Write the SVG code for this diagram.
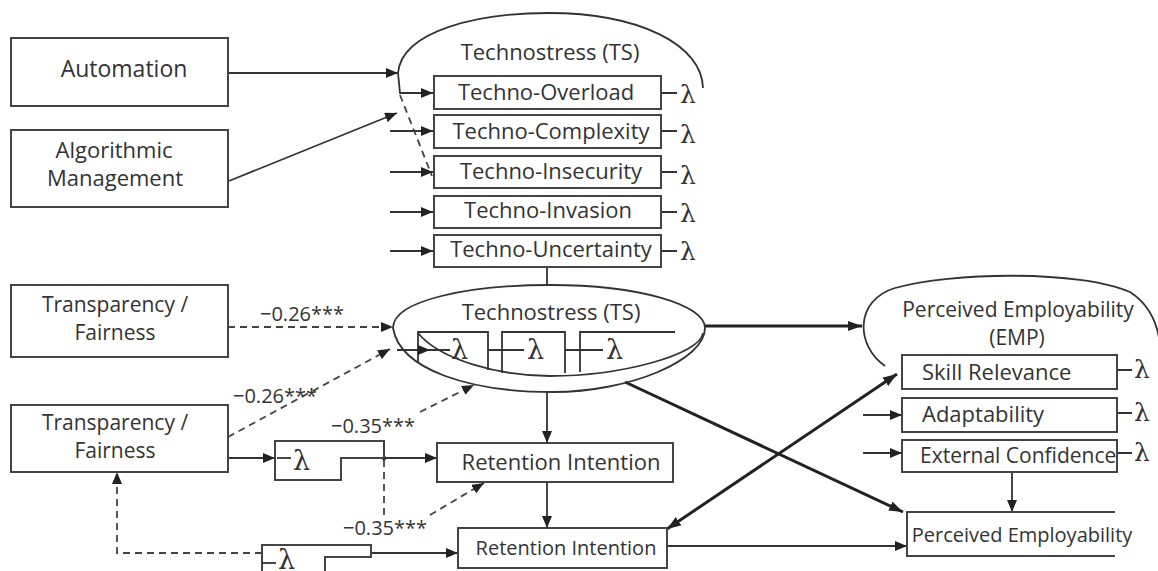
<svg xmlns="http://www.w3.org/2000/svg" width="1158" height="571" viewBox="0 0 1158 571">
  <style>
    .box { fill: #fff; stroke: #444; stroke-width: 2; }
    .ln { fill: none; stroke: #333; stroke-width: 1.8; }
    .thick { fill: none; stroke: #222; stroke-width: 3; }
    .dash { fill: none; stroke: #444; stroke-width: 1.8; stroke-dasharray: 7 5; }
    .t { font-family: "Open Sans", "Noto Sans", sans-serif; font-size: 22px; fill: #333; text-anchor: middle; }
    .ts { font-family: "Open Sans", "Noto Sans", sans-serif; font-size: 22px; fill: #333; }
    .coef { font-family: "Open Sans", "Noto Sans", sans-serif; font-size: 20px; fill: #333; }
    .lam { font-family: "DejaVu Serif", "Liberation Serif", serif; font-size: 25px; fill: #333; }
    .lamL { font-family: "DejaVu Serif", "Liberation Serif", serif; font-size: 27px; fill: #333; }
  </style>
  <defs>
    <marker id="arr" viewBox="0 0 12 10" refX="12" refY="5" markerWidth="12" markerHeight="10" markerUnits="userSpaceOnUse" orient="auto-start-reverse">
      <path d="M0,0 L12,5 L0,10 z" fill="#222"/>
    </marker>
    <marker id="arrT" viewBox="0 0 14 10" refX="14" refY="5" markerWidth="14" markerHeight="10" markerUnits="userSpaceOnUse" orient="auto-start-reverse">
      <path d="M0,0 L14,5 L0,10 z" fill="#222"/>
    </marker>
  </defs>
  <rect width="1158" height="571" fill="#fff"/>

  <!-- connectors -->
  <g id="connectors">
    <!-- antecedents into first-order technostress -->
    <path class="ln" d="M228,73 H398" marker-end="url(#arr)"/>
    <path class="ln" d="M229,181 L397,113" marker-end="url(#arr)"/>
    <path class="ln" d="M398,73 C402,30 480,13 548,13 C640,13 702,45 703,88"/>
    <path class="ln" d="M398,73 L400,93 H433" marker-end="url(#arr)"/>
    <path class="dash" d="M400,95 L432,176"/>
    <path class="ln" d="M390,131 H433" marker-end="url(#arr)"/>
    <path class="ln" d="M390,172 H433" marker-end="url(#arr)"/>
    <path class="ln" d="M390,212 H433" marker-end="url(#arr)"/>
    <path class="ln" d="M390,251 H433" marker-end="url(#arr)"/>
    <path class="ln" d="M547,267 V285"/>

    <!-- transparency / fairness paths -->
    <path class="dash" d="M228,327 H393" marker-end="url(#arr)"/>
    <path class="dash" d="M228,437 L390,349" marker-end="url(#arr)"/>
    <path class="dash" d="M420,412 L474,385" marker-end="url(#arr)"/>
    <path class="ln" d="M228,458 H275" marker-end="url(#arr)"/>
    <path class="ln" d="M384,458 H437" marker-end="url(#arr)"/>
    <circle cx="384" cy="458" r="2.2" fill="#222"/>
    <path class="dash" d="M384,460 V515"/>
    <path class="dash" d="M430,515 L484,483" marker-end="url(#arr)"/>
    <path class="dash" d="M262,553 H117 V472" marker-end="url(#arr)"/>
    <path class="ln" d="M371,553 H458" marker-end="url(#arr)"/>

    <!-- structural paths -->
    <path class="ln" d="M547,392 V443" marker-end="url(#arr)"/>
    <path class="ln" d="M547,482 V528" marker-end="url(#arr)"/>
    <path class="thick" d="M705,326 H862" marker-end="url(#arrT)"/>
    <path class="thick" d="M625,382 L903,512" marker-end="url(#arrT)"/>
    <path class="thick" d="M667,529 L897,374" marker-start="url(#arrT)" marker-end="url(#arrT)"/>
    <path class="ln" d="M667,546 H907" marker-end="url(#arr)"/>
    <path class="ln" d="M1012,472 V512" marker-end="url(#arr)"/>
    <path class="ln" d="M863,415 H902" marker-end="url(#arr)"/>
    <path class="ln" d="M863,453 H902" marker-end="url(#arr)"/>
    <path class="ln" d="M885,366 C855,345 855,300 895,288 C950,272 1080,270 1130,292 C1150,305 1158,325 1160,345"/>

    <!-- loading stubs -->
    <path class="ln" d="M661,93 H677 M661,131 H677 M661,172 H677 M661,212 H677 M661,251 H677"/>
    <path class="ln" d="M1117,370 H1132 M1117,413 H1132 M1117,453 H1132"/>
  </g>

  <!-- coefficient labels -->
  <g id="coefficients">
    <text class="coef" x="260" y="321">−0.26***</text>
    <text class="coef" x="233" y="403">−0.26***</text>
    <text class="coef" x="331" y="433">−0.35***</text>
    <text class="coef" x="343" y="535">−0.35***</text>
  </g>

  <g id="automation">
    <rect class="box" x="11" y="38" width="217" height="68"/>
    <text class="t" x="124" y="77" style="font-size:23px">Automation</text>
  </g>
  <g id="algorithmic-management">
    <rect class="box" x="11" y="130" width="217" height="77"/>
    <text class="t" x="114" y="158">Algorithmic</text>
    <text class="t" x="115" y="186">Management</text>
  </g>

  <g id="technostress-dimensions">
    <text class="t" x="550" y="60">Technostress (TS)</text>
    <rect class="box" x="434" y="76" width="227" height="33"/>
    <text class="t" x="546" y="100">Techno-Overload</text>
    <text class="lam" x="680" y="103">λ</text>
    <rect class="box" x="434" y="115" width="227" height="33"/>
    <text class="t" x="551" y="139">Techno-Complexity</text>
    <text class="lam" x="680" y="143">λ</text>
    <rect class="box" x="434" y="156" width="227" height="32"/>
    <text class="t" x="551" y="179">Techno-Insecurity</text>
    <text class="lam" x="680" y="184">λ</text>
    <rect class="box" x="434" y="196" width="227" height="32"/>
    <text class="t" x="548" y="218">Techno-Invasion</text>
    <text class="lam" x="680" y="222">λ</text>
    <rect class="box" x="434" y="235" width="227" height="32"/>
    <text class="t" x="551" y="257">Techno-Uncertainty</text>
    <text class="lam" x="680" y="260">λ</text>
  </g>

  <g id="transparency-fairness-1">
    <rect class="box" x="11" y="285" width="217" height="72"/>
    <text class="t" x="115" y="312" style="font-size:21px">Transparency /</text>
    <text class="t" x="115" y="340" style="font-size:21px">Fairness</text>
  </g>
  <g id="transparency-fairness-2">
    <rect class="box" x="11" y="405" width="217" height="67"/>
    <text class="t" x="115" y="430" style="font-size:21px">Transparency /</text>
    <text class="t" x="115" y="458" style="font-size:21px">Fairness</text>
  </g>

  <g id="technostress-latent">
    <path class="ln" d="M393,328 C393,300 470,285 550,285 C640,285 705,305 705,328 C705,360 630,392 553,392 C470,392 400,370 393,328 Z"/>
    <path class="ln" d="M418,333 C440,360 500,376 550,376 C620,376 700,355 703,333"/>
    <text class="t" x="551" y="320">Technostress (TS)</text>
    <path class="ln" d="M418,362 V332 H488 V370"/>
    <path class="ln" d="M502,373 V332 H565 V373"/>
    <path class="ln" d="M580,372 V332 H675"/>
    <path class="ln" d="M397,350 H450"/>
    <path d="M418,345 L430,350 L418,355 z" fill="#222"/>
    <path class="ln" d="M488,350 H524"/>
    <path class="ln" d="M565,350 H603"/>
    <text class="lamL" x="451" y="359">λ</text>
    <text class="lamL" x="527" y="359">λ</text>
    <text class="lamL" x="606" y="359">λ</text>
  </g>

  <g id="lambda-upper">
    <path class="box" d="M275,441 H384 V458 H341 V480 H275 Z" fill="none"/>
    <path class="ln" d="M277,458 H291"/>
    <text class="lamL" x="293" y="470">λ</text>
  </g>
  <g id="lambda-lower">
    <path class="box" d="M262,580 V545 H371 V557 H325 V580" fill="none"/>
    <path class="ln" d="M262,563 H276"/>
    <text class="lamL" x="278" y="569">λ</text>
  </g>

  <g id="retention-intention-1">
    <rect class="box" x="437" y="443" width="236" height="39"/>
    <text class="t" x="561" y="470">Retention Intention</text>
  </g>
  <g id="retention-intention-2">
    <rect class="box" x="458" y="528" width="209" height="40"/>
    <text class="t" x="566" y="555" style="font-size:20px">Retention Intention</text>
  </g>

  <g id="employability-latent">
    <text class="t" x="1018" y="317" style="font-size:21px">Perceived Employability</text>
    <text class="t" x="1017" y="345" style="font-size:21px">(EMP)</text>
    <rect class="box" x="902" y="355" width="215" height="34"/>
    <text class="ts" x="922" y="380">Skill Relevance</text>
    <text class="lam" x="1134" y="378">λ</text>
    <rect class="box" x="902" y="398" width="215" height="34"/>
    <text class="ts" x="922" y="422">Adaptability</text>
    <text class="lam" x="1134" y="421">λ</text>
    <rect class="box" x="902" y="440" width="215" height="32"/>
    <text class="ts" x="920" y="463" style="font-size:21px">External Confidence</text>
    <text class="lam" x="1134" y="461">λ</text>
  </g>

  <g id="perceived-employability">
    <path class="box" d="M1115,512 H907 V556 H1115" fill="none"/>
    <text class="t" x="1022" y="542" style="font-size:20px">Perceived Employability</text>
  </g>
</svg>
